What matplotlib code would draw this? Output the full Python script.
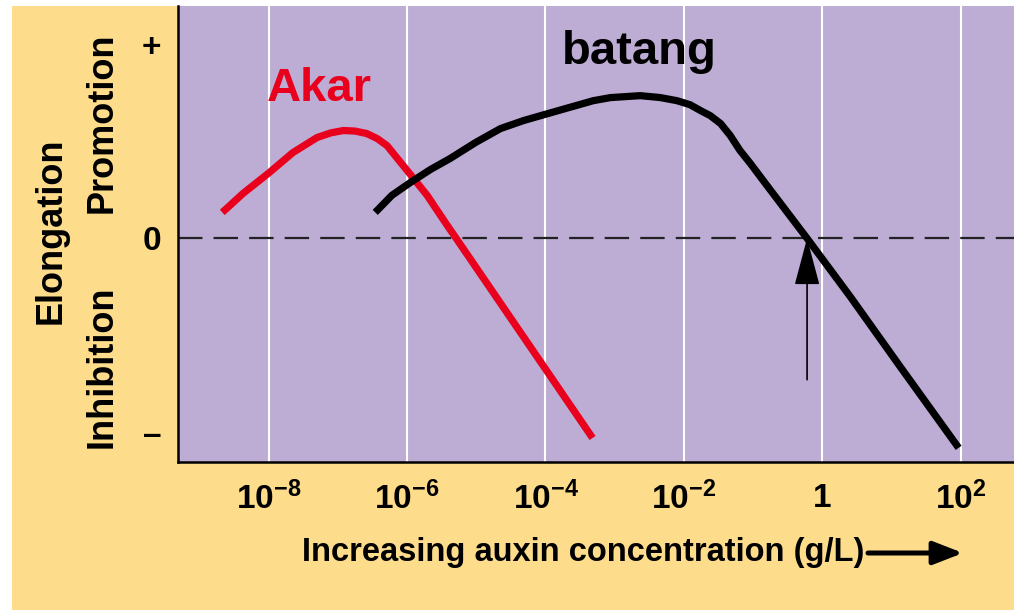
import matplotlib.pyplot as plt
import matplotlib.patches as mpatches
import numpy as np

plt.rcParams['mathtext.fontset'] = 'custom'
plt.rcParams['mathtext.rm'] = 'Liberation Sans:bold'
plt.rcParams['mathtext.bf'] = 'Liberation Sans:bold'
plt.rcParams['mathtext.default'] = 'bf'

colors = {
    "bg": "#FDDC8C",     # peach
    "plot": "#BDADD5",   # lavender
    "akar": "#E8001C",   # red
    "batang": "#000000",
}

# values: x = log10(g/L), y = elongation (+1 .. -1)
akar_logx = [-8.67, -8.37, -7.99, -7.65, -7.30, -7.10, -6.92, -6.75, -6.58,
             -6.43, -6.29, -6.00, -5.71, -5.42, -5.29, -3.99, -3.32]
akar_y = [0.134, 0.232, 0.340, 0.443, 0.521, 0.545, 0.557, 0.554, 0.541,
          0.515, 0.479, 0.351, 0.222, 0.067, 0.0, -0.680, -1.031]

batang_logx = [-6.46, -6.22, -5.95, -5.66, -5.38, -5.01, -4.65, -4.32, -3.97,
               -3.31, -3.06, -2.63, -2.34, -2.10, -1.91, -1.76, -1.62, -1.47,
               -1.33, -1.19, -1.04, -0.80, -0.22, 0.41, 1.13, 1.97]
batang_y = [0.134, 0.222, 0.289, 0.356, 0.412, 0.495, 0.567, 0.608, 0.644,
            0.711, 0.727, 0.737, 0.727, 0.711, 0.690, 0.660, 0.634, 0.593,
            0.531, 0.454, 0.387, 0.273, 0.0, -0.304, -0.665, -1.082]

arrow_logx = -0.22
arrow_from, arrow_to = -0.73, 0.0

xtick_exp = [-8, -6, -4, -2, 0, 2]
xtick_labels = [r'$10^{-8}$', r'$10^{-6}$', r'$10^{-4}$', r'$10^{-2}$', r'$1$', r'$10^{2}$']
ytick_vals = [1, 0, -1]
ytick_labels = ['+', '0', '\u2013']

fig = plt.figure(figsize=(10.14, 6.10), dpi=100, facecolor='white')
fig.patches.append(mpatches.Rectangle((12/1014, 0), 1, (610-6)/610,
                                      transform=fig.transFigure,
                                      facecolor=colors["bg"], edgecolor='none', zorder=-10))

ax = fig.add_axes([178/1014, (610-462)/610, (1014-178)/1014, (462-6)/610])
ax.set_facecolor(colors["plot"])
ax.set_xscale('log')
ax.set_xlim(10**-9.31, 10**2.77)
ax.set_ylim(-1.155, 1.2)

ax.grid(axis='x', color='white', lw=1.5)
ax.set_axisbelow(True)
ax.set_xticks([10.0**e for e in xtick_exp])
ax.set_xticklabels(xtick_labels, fontsize=24)
ax.minorticks_off()
ax.set_yticks(ytick_vals)
ax.set_yticklabels(ytick_labels, fontsize=24, fontweight='bold',
                   family=['Liberation Sans', 'DejaVu Sans'])
ax.tick_params(length=0)
ax.tick_params(axis='x', pad=14)
ax.tick_params(axis='y', pad=12)

for s in ['top', 'right']:
    ax.spines[s].set_visible(False)
for s in ['left', 'bottom']:
    ax.spines[s].set_linewidth(1.8)

ax.axhline(0, color='#222222', lw=1.6, dashes=(11, 5))

ax.plot(10.0**np.array(akar_logx), akar_y, color=colors["akar"], lw=5.2,
        solid_capstyle='butt', solid_joinstyle='round')
ax.plot(10.0**np.array(batang_logx), batang_y, color=colors["batang"], lw=5.2,
        solid_capstyle='butt', solid_joinstyle='round')

ax.annotate('', xy=(10**arrow_logx, arrow_to), xytext=(10**arrow_logx, arrow_from),
            arrowprops=dict(arrowstyle='-|>,head_length=3.0,head_width=0.8',
                            color='black', lw=1.2, shrinkA=0, shrinkB=0))

ax.text(10**-7.27, 0.77, 'Akar', color=colors["akar"], fontsize=34,
        fontweight='bold', family='Liberation Sans', ha='center', va='center')
ax.text(10**-2.64, 0.96, 'batang', color='black', fontsize=34,
        fontweight='bold', family='Liberation Sans', ha='center', va='center')

lab = dict(fontsize=26, fontweight='bold', family='Liberation Sans',
           rotation=90, ha='center', va='center')
fig.text(51/1014, 1 - 231/610, 'Elongation', **lab)
fig.text(102/1014, 1 - 123/610, 'Promotion', **lab)
fig.text(102/1014, 1 - 367/610, 'Inhibition', **lab)

fig.text(302/1014, 1 - 553/610, 'Increasing auxin concentration (g/L)',
         fontsize=23.5, fontweight='bold', family='Liberation Sans',
         ha='left', va='center')
ax.annotate('', xy=(963/1014, 1 - 553/610), xytext=(868/1014, 1 - 553/610),
            xycoords='figure fraction', textcoords='figure fraction',
            arrowprops=dict(arrowstyle='-|>,head_length=1.8,head_width=0.7',
                            color='black', lw=3.6, shrinkA=0, shrinkB=0))

fig.savefig('out.png', dpi=100, facecolor='white')
